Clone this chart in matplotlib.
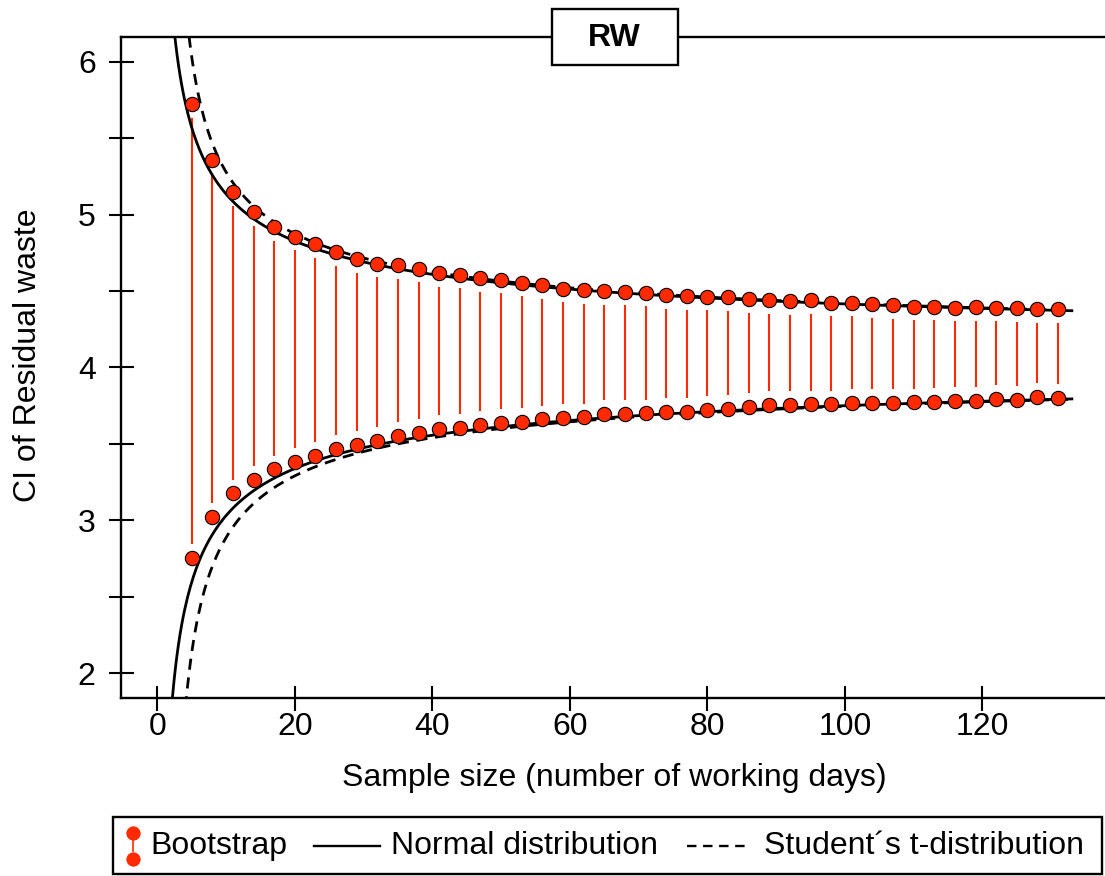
import math
import numpy as np
import matplotlib
matplotlib.use("Agg")
import matplotlib.pyplot as plt
from matplotlib.lines import Line2D
from matplotlib.patches import Rectangle

plt.rcParams['font.family'] = ['Liberation Sans', 'DejaVu Sans']

# ── Data ──────────────────────────────────────────────────────────────────────
sample_n = list(range(5, 132, 3))
boot_upper = [5.723, 5.354, 5.146, 5.015, 4.917, 4.855, 4.806, 4.753, 4.710,
              4.679, 4.668, 4.646, 4.618, 4.607, 4.585, 4.574, 4.555, 4.538,
              4.515, 4.507, 4.500, 4.496, 4.489, 4.474, 4.468, 4.463, 4.459,
              4.448, 4.441, 4.435, 4.441, 4.424, 4.424, 4.413, 4.407, 4.398,
              4.398, 4.391, 4.394, 4.391, 4.387, 4.381, 4.381]
boot_lower = [2.756, 3.024, 3.177, 3.264, 3.334, 3.384, 3.421, 3.467, 3.495,
              3.519, 3.552, 3.574, 3.598, 3.604, 3.624, 3.635, 3.642, 3.661,
              3.672, 3.674, 3.694, 3.696, 3.700, 3.711, 3.711, 3.720, 3.727,
              3.744, 3.755, 3.755, 3.759, 3.759, 3.766, 3.770, 3.770, 3.772,
              3.776, 3.783, 3.783, 3.792, 3.790, 3.805, 3.800]

# parameters of the theoretical intervals
rw_mean = 4.0825
rw_sd = 1.697
z_975 = 1.96
n_min, n_max = 2, 133

x_ticks = [0, 20, 40, 60, 80, 100, 120]
y_ticks = [2, 3, 4, 5, 6]
y_minor = [2.5, 3.5, 4.5, 5.5]

RED = '#ff2a00'
W, H = 1105, 876


def t_crit(df, p=0.975):
    # quantile of Student's t by integrating the density from 0
    x = np.linspace(0, 60, 30001)
    c = math.exp(math.lgamma((df + 1) / 2) - math.lgamma(df / 2)) / math.sqrt(df * math.pi)
    dens = c * (1 + x ** 2 / df) ** (-(df + 1) / 2)
    cdf = np.concatenate([[0], np.cumsum((dens[1:] + dens[:-1]) / 2 * np.diff(x))])
    return np.interp(p - 0.5, cdf, x)


def px(x, y):
    return x / W, 1 - y / H


# ── Curves ────────────────────────────────────────────────────────────────────
n_grid = np.linspace(n_min, n_max, 600)
half_norm = z_975 * rw_sd / np.sqrt(n_grid)
half_t = np.array([t_crit(n) for n in n_grid]) * rw_sd / np.sqrt(n_grid)

# ── Plot ──────────────────────────────────────────────────────────────────────
fig = plt.figure(figsize=(W / 100, H / 100), dpi=100)
ax = fig.add_axes([120.7 / W, 1 - 697.7 / H, (1108.3 - 120.7) / W, (697.7 - 36.7) / H])

ax.plot(n_grid, rw_mean + half_norm, color='black', lw=2.0, zorder=3)
ax.plot(n_grid, rw_mean - half_norm, color='black', lw=2.0, zorder=3)
ax.plot(n_grid, rw_mean + half_t, color='black', lw=2.0, ls=(0, (4, 2.8)), zorder=3)
ax.plot(n_grid, rw_mean - half_t, color='black', lw=2.0, ls=(0, (4, 2.8)), zorder=3)

gap = 0.09
ax.vlines(sample_n, np.array(boot_lower) + gap, np.array(boot_upper) - gap,
          color=RED, lw=1.5, zorder=2)
ax.plot(sample_n, boot_upper, 'o', ms=10.3, mfc=RED, mec='black', mew=0.8, zorder=4)
ax.plot(sample_n, boot_lower, 'o', ms=10.3, mfc=RED, mec='black', mew=0.8, zorder=4)

ax.set_xlim(-5.32, 138.3)
ax.set_ylim(1.84, 6.163)
ax.set_xticks(x_ticks)
ax.set_yticks(y_ticks)
ax.set_yticks(y_minor, minor=True)
ax.tick_params(axis='both', which='both', direction='inout', length=18, width=1.5,
               labelsize=23)
ax.tick_params(axis='y', pad=9)
ax.tick_params(axis='x', pad=1)
for s in ax.spines.values():
    s.set_linewidth(1.7)
ax.spines['right'].set_visible(False)

fig.text(*px(28, 355), 'CI of Residual waste', rotation=90, fontsize=23,
         ha='center', va='center')
fig.text(*px(614, 778), 'Sample size (number of working days)', fontsize=23,
         ha='center', va='center')

# title box straddling the top spine
bx0, by0 = px(551.7, 65)
bx1, by1 = px(677.7, 9)
fig.patches.append(Rectangle((bx0, by0), bx1 - bx0, by1 - by0, transform=fig.transFigure,
                             fc='white', ec='black', lw=1.7, zorder=10))
fig.text(*px(614.7, 38), 'RW', fontsize=23, fontweight='bold', ha='center',
         va='center', zorder=11)

# ── Legend ────────────────────────────────────────────────────────────────────
lx0, ly0 = px(113, 874)
lx1, ly1 = px(1102, 817)
fig.patches.append(Rectangle((lx0, ly0), lx1 - lx0, ly1 - ly0, transform=fig.transFigure,
                             fc='white', ec='black', lw=1.7, zorder=10))
ly = 846
fig.lines.append(Line2D(*zip(px(133.3, 841), px(133.3, 851)), transform=fig.transFigure,
                        color=RED, lw=1.2, zorder=11))
for yy in (832.7, 859.3):
    fig.lines.append(Line2D(*zip(px(133.3, yy), px(133.3, yy)), transform=fig.transFigure,
                            marker='o', ms=9, mfc=RED, mec=RED, ls='none', zorder=11))
fig.lines.append(Line2D(*zip(px(314, ly), px(380, ly)), transform=fig.transFigure,
                        color='black', lw=1.7, zorder=11))
fig.lines.append(Line2D(*zip(px(687, ly), px(750, ly)), transform=fig.transFigure,
                        color='black', lw=1.7, ls=(0, (4, 2.8)), zorder=11))
fig.text(*px(150, ly), 'Bootstrap', fontsize=23, ha='left', va='center', zorder=12)
fig.text(*px(391, ly), 'Normal distribution', fontsize=23, ha='left', va='center', zorder=12)
fig.text(*px(764, ly), 'Student\u00b4s t-distribution', fontsize=23, ha='left',
         va='center', zorder=12)

fig.savefig('out.png', dpi=100)
